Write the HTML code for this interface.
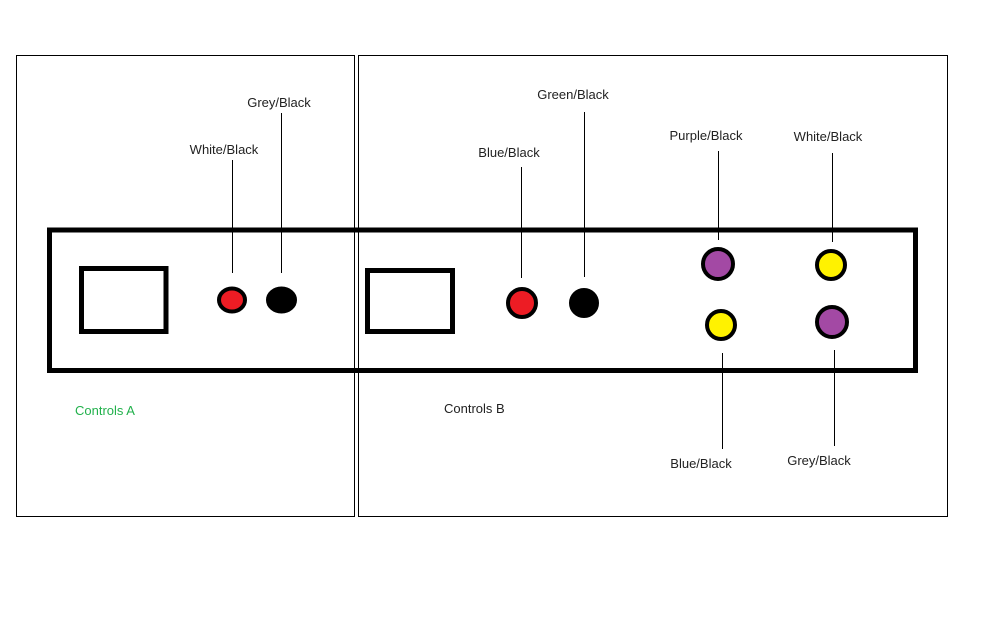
<!DOCTYPE html>
<html><head><meta charset="utf-8"><style>
html,body{margin:0;padding:0;background:#fff;}
svg{display:block}
text{font-family:"Liberation Sans",sans-serif;font-size:13px;fill:#222;}
</style></head><body>
<svg width="1008" height="630" viewBox="0 0 1008 630" xmlns="http://www.w3.org/2000/svg">
<rect x="0" y="0" width="1008" height="630" fill="#fff"/>
<rect x="16.5" y="55.5" width="338" height="461" fill="none" stroke="#000" stroke-width="1"/>
<rect x="358.5" y="55.5" width="589" height="461" fill="none" stroke="#000" stroke-width="1"/>
<rect x="49.5" y="230" width="866" height="140.5" fill="none" stroke="#000" stroke-width="5"/>
<rect x="81.5" y="268.5" width="84.5" height="63" fill="none" stroke="#000" stroke-width="5"/>
<rect x="367.5" y="270.5" width="85" height="61" fill="none" stroke="#000" stroke-width="5"/>
<g stroke="#000" stroke-width="1">
<line x1="232.5" y1="160" x2="232.5" y2="273"/>
<line x1="281.5" y1="113" x2="281.5" y2="273"/>
<line x1="521.5" y1="167" x2="521.5" y2="278"/>
<line x1="584.5" y1="112" x2="584.5" y2="277"/>
<line x1="718.5" y1="151" x2="718.5" y2="240"/>
<line x1="832.5" y1="153" x2="832.5" y2="242"/>
<line x1="722.5" y1="353" x2="722.5" y2="449"/>
<line x1="834.5" y1="350" x2="834.5" y2="446"/>
</g>
<g stroke="#000" stroke-width="4">
<ellipse cx="232" cy="300" rx="13" ry="11.5" fill="#ed1c24"/>
<ellipse cx="281.5" cy="300" rx="13.5" ry="11.5" fill="#000"/>
<circle cx="522" cy="303" r="14" fill="#ed1c24"/>
<circle cx="584" cy="303" r="13" fill="#000"/>
<circle cx="718" cy="264" r="15" fill="#a349a4"/>
<circle cx="831" cy="265" r="14" fill="#fff200"/>
<circle cx="721" cy="325" r="14" fill="#fff200"/>
<circle cx="832" cy="322" r="15" fill="#a349a4"/>
</g>
<text x="279" y="107" text-anchor="middle">Grey/Black</text>
<text x="224" y="154" text-anchor="middle">White/Black</text>
<text x="509" y="157" text-anchor="middle">Blue/Black</text>
<text x="573" y="99" text-anchor="middle">Green/Black</text>
<text x="706" y="140" text-anchor="middle">Purple/Black</text>
<text x="828" y="141" text-anchor="middle">White/Black</text>
<text x="701" y="468" text-anchor="middle">Blue/Black</text>
<text x="819" y="465" text-anchor="middle">Grey/Black</text>
<text x="75" y="415" style="fill:#22b14c">Controls A</text>
<text x="444" y="413">Controls B</text>
</svg>
</body></html>
